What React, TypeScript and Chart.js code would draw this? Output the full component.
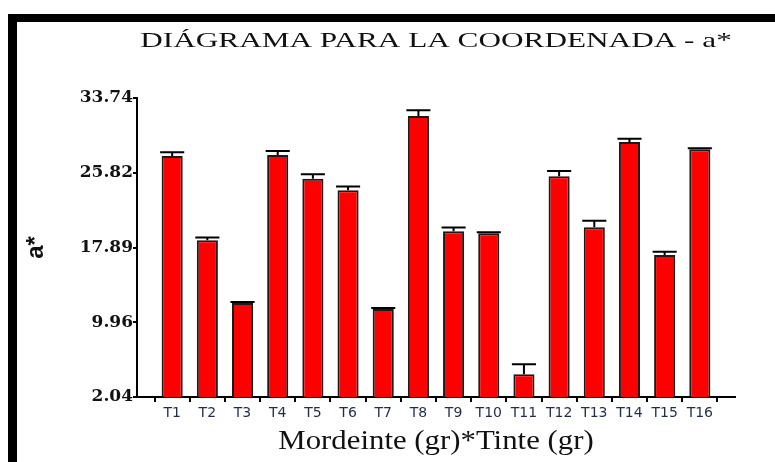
import React, { useEffect, useRef } from "react";
import { Chart, registerables } from "chart.js";

Chart.register(...registerables);

const CHART_TITLE = "DIÁGRAMA PARA LA COORDENADA - a*";
const X_TITLE = "Mordeinte (gr)*Tinte (gr)";
const Y_TITLE = "a*";

const categories = ["T1", "T2", "T3", "T4", "T5", "T6", "T7", "T8", "T9", "T10", "T11", "T12", "T13", "T14", "T15", "T16"];
const means = [27.6, 18.65, 12.0, 27.7, 25.18, 23.95, 11.37, 31.83, 19.6, 19.4, 4.45, 25.44, 20.03, 29.08, 17.09, 28.3];
const errors = [0.4, 0.3, 0.1, 0.42, 0.47, 0.42, 0.1, 0.6, 0.42, 0.1, 1.06, 0.56, 0.7, 0.35, 0.35, 0.12];
const yTicks = [2.04, 9.96, 17.89, 25.82, 33.74];

const errorBarPlugin = {
  id: "errorBars",
  afterDatasetsDraw(chart: any) {
    const meta = chart.getDatasetMeta(0);
    const ys = chart.scales.y;
    const ctx = chart.ctx;
    ctx.save();
    ctx.strokeStyle = "#000";
    ctx.lineWidth = 2;
    meta.data.forEach((bar: any, i: number) => {
      const x = bar.x;
      const top = ys.getPixelForValue(means[i]);
      const e = ys.getPixelForValue(means[i] + errors[i]);
      const half = bar.width / 2 + 1.5;
      ctx.beginPath();
      ctx.moveTo(x, top);
      ctx.lineTo(x, e);
      ctx.moveTo(x - half, e);
      ctx.lineTo(x + half, e);
      ctx.stroke();
    });
    ctx.restore();
  },
};

const stretchedTextPlugin = {
  id: "stretchedText",
  afterDraw(chart: any) {
    const ctx = chart.ctx;
    const { left, right } = chart.chartArea;
    const cx = (left + right) / 2;
    ctx.save();
    ctx.fillStyle = "#111";
    ctx.textAlign = "center";
    ctx.textBaseline = "alphabetic";
    ctx.font = '22px "Liberation Serif"';
    ctx.translate(cx, 46.5);
    ctx.scale(1.42, 1);
    ctx.fillText(CHART_TITLE, 0, 0);
    ctx.restore();

    ctx.save();
    ctx.fillStyle = "#111";
    ctx.textAlign = "center";
    ctx.textBaseline = "alphabetic";
    ctx.font = '28px "Liberation Serif"';
    ctx.translate(cx, 449);
    ctx.scale(1.1, 1);
    ctx.fillText(X_TITLE, 0, 0);
    ctx.restore();
  },
};

export default function App() {
  const ref = useRef<HTMLCanvasElement | null>(null);

  useEffect(() => {
    if (!ref.current) return;
    const chart = new Chart(ref.current, {
      type: "bar",
      data: {
        datasets: [
          {
            label: Y_TITLE,
            data: means.map((v, i) => ({ x: i + 1, y: v })),
            backgroundColor: "#ff0000",
            borderColor: "#1a1a1a",
            borderWidth: 2,
            categoryPercentage: 1,
            barPercentage: 0.6,
          },
        ],
      },
      options: {
        responsive: false,
        animation: false,
        devicePixelRatio: 1,
        layout: { padding: { top: 98, right: 40, bottom: 0, left: 0 } },
        plugins: {
          legend: { display: false },
          title: { display: false },
          tooltip: { enabled: false },
        },
        scales: {
          x: {
            type: "linear",
            min: 0,
            max: 17,
            offset: false,
            afterFit: (s: any) => {
              s.height = 65;
            },
            grid: {
              display: true,
              drawOnChartArea: false,
              drawTicks: true,
              tickLength: 5,
              color: "#000",
              lineWidth: 2,
            },
            border: { display: true, color: "#000", width: 2 },
            ticks: {
              stepSize: 1,
              autoSkip: false,
              maxRotation: 0,
              includeBounds: false,
              padding: 3,
              color: "#1f2d4d",
              font: { family: "DejaVu Sans", size: 14 },
              callback: (v: any) => {
                const n = Number(v);
                return n >= 1 && n <= categories.length ? categories[n - 1] : "";
              },
            },
          },
          y: {
            type: "linear",
            min: 2.04,
            max: 33.74,
            afterFit: (s: any) => {
              s.width = 137;
            },
            afterBuildTicks: (s: any) => {
              s.ticks = yTicks.map((v) => ({ value: v }));
            },
            grid: {
              display: true,
              drawOnChartArea: false,
              drawTicks: true,
              tickLength: 4,
              color: "#000",
              lineWidth: 2,
            },
            border: { display: true, color: "#000", width: 2 },
            ticks: {
              padding: 0,
              color: "#111",
              font: { family: "DejaVu Serif", size: 17, weight: "bold" },
              callback: (v: any) => Number(v).toFixed(2),
            },
            title: {
              display: true,
              text: Y_TITLE,
              color: "#111",
              font: { family: "Liberation Sans", size: 24, weight: "bold" },
              padding: { top: 22, bottom: 0 },
            },
          },
        },
      },
      plugins: [errorBarPlugin, stretchedTextPlugin],
    });
    return () => chart.destroy();
  }, []);

  return (
    <div style={{ position: "absolute", left: 0, top: 0, width: 775, height: 462, background: "#fff" }}>
      <div
        style={{
          position: "absolute",
          left: 8,
          top: 14,
          right: 0,
          bottom: 0,
          borderTop: "8px solid #000",
          borderLeft: "9px solid #000",
        }}
      />
      <canvas
        ref={ref}
        width={775}
        height={462}
        style={{ position: "absolute", left: 0, top: 0, width: 775, height: 462 }}
      />
    </div>
  );
}
